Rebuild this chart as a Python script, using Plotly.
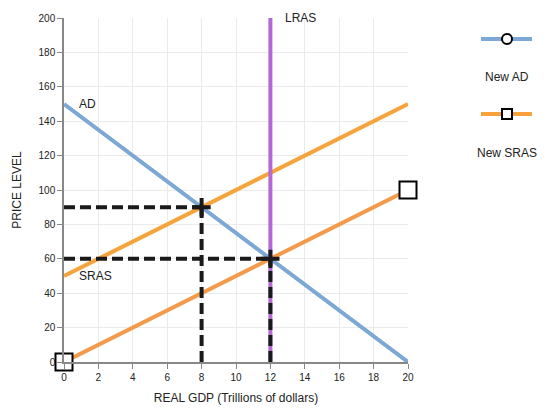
import plotly.graph_objects as go

# Data
ad_x = [0, 20]
ad_y = [150, 0]
sras_x = [0, 20]
sras_y = [50, 150]
new_sras_x = [0, 20]
new_sras_y = [0, 100]
lras_x = [12, 12]
lras_y = [0, 200]
eq1 = (8, 90)
eq2 = (12, 60)
x_ticks = list(range(0, 21, 2))
y_ticks = list(range(0, 201, 20))

BLUE = "#7DA7D4"
ORANGE = "#F7A23A"
ORANGE2 = "#F39A4B"
PURPLE = "#B468D8"
DASH = "#1a1a1a"
FONT = "Liberation Sans, Arial, sans-serif"
TXT = "#222"

fig = go.Figure()

fig.add_trace(go.Scatter(x=ad_x, y=ad_y, mode="lines", line=dict(color=BLUE, width=4), hoverinfo="skip"))
fig.add_trace(go.Scatter(x=sras_x, y=sras_y, mode="lines", line=dict(color=ORANGE, width=4), hoverinfo="skip"))
fig.add_trace(go.Scatter(x=new_sras_x, y=new_sras_y, mode="lines+markers",
                         line=dict(color=ORANGE2, width=4),
                         marker=dict(symbol="square", size=17, color="white", line=dict(color="black", width=2)),
                         cliponaxis=False, hoverinfo="skip"))
fig.add_trace(go.Scatter(x=lras_x, y=lras_y, mode="lines", line=dict(color=PURPLE, width=4), hoverinfo="skip"))

for (ex, ey) in [eq1, eq2]:
    fig.add_trace(go.Scatter(x=[0, ex], y=[ey, ey], mode="lines",
                             line=dict(color=DASH, width=4, dash="11px,5px"), hoverinfo="skip"))
    fig.add_trace(go.Scatter(x=[ex, ex], y=[0, ey], mode="lines",
                             line=dict(color=DASH, width=4, dash="11px,5px"), hoverinfo="skip"))
    fig.add_trace(go.Scatter(x=[ex], y=[ey], mode="markers",
                             marker=dict(symbol="cross-thin", size=13, line=dict(color=DASH, width=4)),
                             hoverinfo="skip"))

# Legend drawn on a pixel-mapped auxiliary axis
fig.add_trace(go.Scatter(x=[481, 532], y=[39, 39], xaxis="x2", yaxis="y2", mode="lines",
                         line=dict(color=BLUE, width=4), hoverinfo="skip"))
fig.add_trace(go.Scatter(x=[507], y=[39], xaxis="x2", yaxis="y2", mode="markers",
                         marker=dict(symbol="circle", size=10, color="white", line=dict(color="black", width=2)),
                         hoverinfo="skip"))
fig.add_trace(go.Scatter(x=[481, 532], y=[114, 114], xaxis="x2", yaxis="y2", mode="lines",
                         line=dict(color=ORANGE, width=4), hoverinfo="skip"))
fig.add_trace(go.Scatter(x=[507], y=[114], xaxis="x2", yaxis="y2", mode="markers",
                         marker=dict(symbol="square", size=10, color="white", line=dict(color="black", width=2)),
                         hoverinfo="skip"))

annotations = [
    dict(x=0.75, y=150, text="AD", xref="x", yref="y", showarrow=False, xanchor="left", yanchor="middle",
         font=dict(size=12, color=TXT, family=FONT)),
    dict(x=0.75, y=50, text="SRAS", xref="x", yref="y", showarrow=False, xanchor="left", yanchor="middle",
         font=dict(size=12, color=TXT, family=FONT)),
    dict(x=12.75, y=200, text="LRAS", xref="x", yref="y", showarrow=False, xanchor="left", yanchor="middle",
         font=dict(size=12, color=TXT, family=FONT)),
    dict(x=507, y=77, text="New AD", xref="x2", yref="y2", showarrow=False, xanchor="center", yanchor="middle",
         font=dict(size=12, color=TXT, family=FONT)),
    dict(x=507, y=153, text="New SRAS", xref="x2", yref="y2", showarrow=False, xanchor="center", yanchor="middle",
         font=dict(size=12, color=TXT, family=FONT)),
]

W, H = 560, 420
l, r, t, b = 64, 8, 18, 58
pw = W - l - r
main_frac = (408 - 64) / pw

fig.update_layout(
    width=W, height=H,
    margin=dict(l=l, r=r, t=t, b=b, autoexpand=False),
    paper_bgcolor="white", plot_bgcolor="white",
    showlegend=False,
    font=dict(family=FONT, color=TXT),
    annotations=annotations,
    xaxis=dict(domain=[0, main_frac], range=[0, 20], tickvals=x_ticks, ticktext=[str(v) for v in x_ticks],
               automargin=False,
               showgrid=True, gridcolor="#EBEBEB", gridwidth=1, zeroline=False,
               showline=True, linecolor="#888", linewidth=1.5, ticks="outside", ticklen=5, tickcolor="#888",
               tickfont=dict(size=10, color=TXT),
               title=dict(text="REAL GDP (Trillions of dollars)", font=dict(size=12, color=TXT), standoff=12)),
    yaxis=dict(range=[0, 200], tickvals=y_ticks, ticktext=[str(v) for v in y_ticks],
               automargin=False,
               showgrid=True, gridcolor="#EBEBEB", gridwidth=1, zeroline=False,
               showline=True, linecolor="#888", linewidth=1.5, ticks="outside", ticklen=5, tickcolor="#888",
               tickfont=dict(size=10, color=TXT),
               title=dict(text="PRICE LEVEL", font=dict(size=12, color=TXT), standoff=14)),
    xaxis2=dict(domain=[main_frac, 1], range=[408, W - r], visible=False, anchor="y2", automargin=False),
    yaxis2=dict(domain=[0, 1], range=[H - b, t], visible=False, anchor="x2", automargin=False),
)

fig.write_html("out.html")
